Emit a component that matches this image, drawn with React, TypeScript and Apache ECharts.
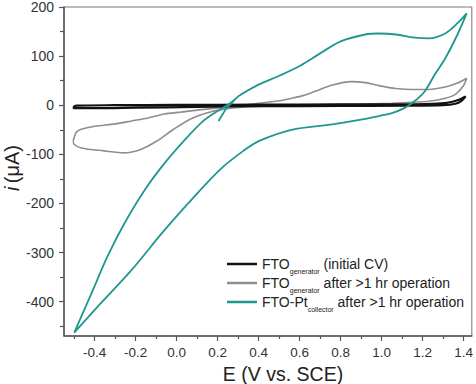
import React, { useEffect, useRef } from "react";
import * as echarts from "echarts";

// FTO generator (initial CV)
const blackE = [-0.505, -0.49, -0.3, 0.0, 0.4, 0.8, 1.1, 1.25, 1.32, 1.37, 1.41, 1.39, 1.36, 1.3, 1.1, 0.8, 0.4, 0.1, -0.2, -0.4, -0.5, -0.505];
const blackI = [-4, -1, 0, 0.5, 1, 1.5, 2, 3, 5, 10, 18, 9, 3, 0, -1, -1.5, -2, -3.5, -5, -6, -6, -4];

// FTO generator after >1 hr operation
const grayE = [-0.505, -0.49, -0.466, -0.4, -0.3, -0.22, -0.14, -0.06, 0.02, 0.1, 0.19, 0.3, 0.4, 0.5, 0.56, 0.62, 0.68, 0.76, 0.85, 0.92, 0.985, 1.07, 1.15, 1.23, 1.31, 1.37, 1.415,
  1.4, 1.36, 1.31, 1.23, 1.15, 1.05, 0.9, 0.7, 0.5, 0.35, 0.23, 0.146, 0.068, -0.015, -0.097, -0.175, -0.257, -0.354, -0.466, -0.5, -0.505];
const grayI = [-73, -55, -49, -43, -38, -32, -26, -18, -14, -10, -6, -1, 4, 9, 14, 20, 29, 41, 48, 46, 40, 34, 32, 32, 37, 45, 55,
  40, 22, 14, 8, 6, 4, 2, 1, -1, -3, -8, -16, -28, -49, -73, -90, -97, -93, -87, -80, -73];

// FTO-Pt collector after >1 hr operation
const tealE = [0.204, 0.225, 0.243, 0.27, 0.3, 0.4, 0.5, 0.6, 0.69, 0.8, 0.92, 0.985, 1.07, 1.15, 1.23, 1.31, 1.37, 1.415,
  1.37, 1.31, 1.26, 1.21, 1.16, 1.11, 1.05, 0.985, 0.92, 0.76, 0.56, 0.4, 0.325, 0.214, 0.097, -0.063, -0.223, -0.39, -0.5,
  -0.417, -0.34, -0.257, -0.16, -0.063, 0.034, 0.13, 0.214, 0.26, 0.3];
const tealI = [-32, -18, -6, 5, 18, 42, 60, 80, 103, 130, 144, 146, 144, 138, 136, 146, 167, 187,
  144, 95, 63, 28, 8, -6, -16, -22, -28, -39, -50, -73, -93, -130, -181, -256, -337, -412, -463,
  -384, -310, -242, -175, -120, -73, -32, -8, 4, 18];

const xLabels = [-0.4, -0.2, 0, 0.2, 0.4, 0.6, 0.8, 1.0, 1.2, 1.4];
const xMinor = [-0.5, -0.3, -0.1, 0.1, 0.3, 0.5, 0.7, 0.9, 1.1, 1.3];
const yLabels = [-400, -300, -200, -100, 0, 100, 200];
const yMinor = [-450, -350, -250, -150, -50, 50, 150];

const seriesNames = ["black", "gray", "teal"];

const pairs = (xs: number[], ys: number[]) => xs.map((x, k) => [x, ys[k]]);

const FONT = "'Liberation Sans', Arial, sans-serif";

export default function App() {
  const ref = useRef<HTMLDivElement>(null);
  useEffect(() => {
    if (!ref.current) return;
    const chart = echarts.init(ref.current, undefined, { renderer: "svg" });
    const axisLineStyle = { color: "#555", width: 1.5 };
    const n = { fontSize: 14, lineHeight: 16, color: "#222", fontFamily: FONT, verticalAlign: "middle" };
    const s = { fontSize: 7, lineHeight: 8, color: "#222", fontFamily: FONT, padding: [15, 0, 0, 0], verticalAlign: "middle" };
    const legendText: Record<string, string> = {
      black: "{n|FTO}{s|generator}{n| (initial CV)}",
      gray: "{n|FTO}{s|generator}{n| after >1 hr operation}",
      teal: "{n|FTO-Pt}{s|collector}{n| after >1 hr operation}",
    };
    chart.setOption({
      animation: false,
      grid: { left: 64, right: 2, top: 5, bottom: 48, show: true, borderColor: "#777", borderWidth: 1 },
      xAxis: [
        {
          type: "value", min: -0.55, max: 1.44, position: "bottom",
          axisLine: { show: true, onZero: false, lineStyle: axisLineStyle },
          splitLine: { show: false },
          axisTick: { show: true, inside: false, length: 5, customValues: xLabels, lineStyle: { color: "#555", width: 1.2 } },
          axisLabel: { customValues: xLabels, formatter: (v: number) => v.toFixed(1), color: "#333", fontSize: 13.5, fontFamily: FONT, margin: 9 },
        },
        {
          type: "value", min: -0.55, max: 1.44, position: "bottom",
          axisLine: { show: false, onZero: false },
          splitLine: { show: false },
          axisTick: { show: true, inside: false, length: 3, customValues: xMinor, lineStyle: { color: "#555", width: 1.2 } },
          axisLabel: { show: false },
        },
      ],
      yAxis: [
        {
          type: "value", min: -470, max: 200, position: "left",
          axisLine: { show: true, onZero: false, lineStyle: axisLineStyle },
          splitLine: { show: false },
          axisTick: { show: true, inside: false, length: 5, customValues: yLabels, lineStyle: { color: "#555", width: 1.2 } },
          axisLabel: { customValues: yLabels, color: "#333", fontSize: 14, fontFamily: FONT, margin: 10 },
        },
        {
          type: "value", min: -470, max: 200, position: "left",
          axisLine: { show: false, onZero: false },
          splitLine: { show: false },
          axisTick: { show: true, inside: false, length: 4, customValues: yMinor, lineStyle: { color: "#555", width: 1.2 } },
          axisLabel: { show: false },
        },
      ],
      legend: {
        orient: "vertical", left: 222, top: 248, itemWidth: 30, itemHeight: 2.5, itemGap: -3,
        icon: "rect",
        data: seriesNames,
        formatter: (name: string) => legendText[name],
        textStyle: { rich: { n, s } },
      },
      graphic: [
        {
          type: "text", x: 283, y: 374,
          style: { text: "E (V vs. SCE)", fontSize: 19.5, fontFamily: FONT, fill: "#222", textAlign: "center", textVerticalAlign: "middle" },
        },
        {
          type: "text", x: 12, y: 168, rotation: Math.PI / 2,
          style: {
            text: "{it|i} {n|(μA)}", textAlign: "center", textVerticalAlign: "middle",
            rich: {
              it: { fontSize: 20, fontStyle: "italic", fontFamily: FONT, fill: "#222" },
              n: { fontSize: 20, fontFamily: FONT, fill: "#222" },
            },
          },
        },
      ],
      series: [
        { name: "black", type: "line", data: pairs(blackE, blackI), showSymbol: false, symbol: "none", smooth: 0.3, z: 3, lineStyle: { color: "#111", width: 2.2 }, itemStyle: { color: "#111" } },
        { name: "gray", type: "line", data: pairs(grayE, grayI), showSymbol: false, symbol: "none", smooth: 0.3, z: 2, lineStyle: { color: "#8e8e8e", width: 1.6 }, itemStyle: { color: "#8e8e8e" } },
        { name: "teal", type: "line", data: pairs(tealE, tealI), showSymbol: false, symbol: "none", smooth: 0.3, z: 4, lineStyle: { color: "#1f9690", width: 1.8 }, itemStyle: { color: "#1f9690" } },
      ],
    });
    return () => chart.dispose();
  }, []);
  return <div ref={ref} style={{ width: 476, height: 384, position: "absolute", left: 0, top: 0 }} />;
}
